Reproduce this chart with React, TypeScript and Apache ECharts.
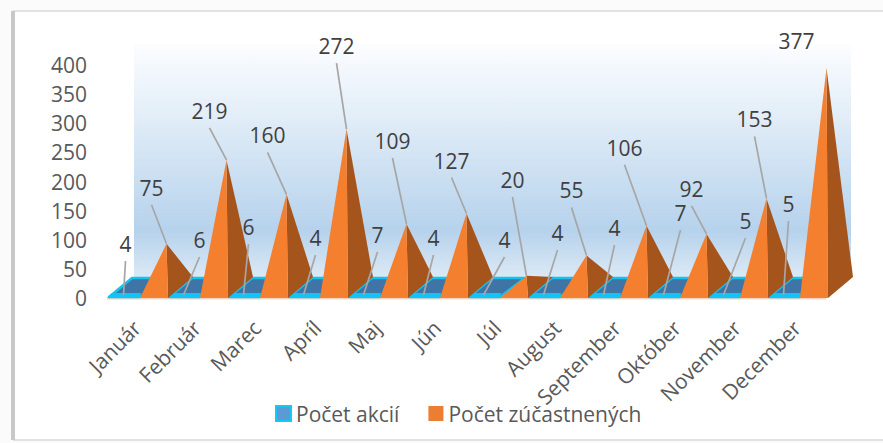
import React, { useEffect, useRef } from "react";
import * as echarts from "echarts";

const months = ["Január", "Február", "Marec", "Apríl", "Maj", "Jún", "Júl", "August", "September", "Október", "November", "December"];
const actions = [4, 6, 6, 4, 7, 4, 4, 4, 4, 7, 5, 5];
const participants = [75, 219, 160, 272, 109, 127, 20, 55, 106, 92, 153, 377];
const yTicks = { min: 0, max: 400, interval: 50 };
// label displacement from the mark's own anchor (layout only)
const actionLabelShift = [[2, -51], [16, -55], [5, -68], [12, -57], [14, -60], [10, -57], [21, -55], [14, -62], [11, -67], [17, -82], [22, -74], [5, -91]];
const participantLabelShift = [[-15, -56], [-17, -49], [-19, -59], [-10, -83], [-14, -83], [-15, -53], [-14, -96], [-15, -65], [-22, -78], [-15, -45], [-12, -79], [-30, -27]];

const BAND = 60, DX = 25, DY = 21, ORANGE_L = 33, ORANGE_W = 28;
const TEXT = "#404040";

function base(api: any, idx: number) {
  const c = api.coord([idx, 0]);
  return { x: c[0] - BAND / 2, y: c[1] };
}
function pyramidApex(api: any, idx: number, value: number) {
  const b = base(api, idx);
  const h = b.y - api.coord([idx, value])[1];
  return [b.x + ORANGE_L + ORANGE_W / 2 + DX / 2, b.y - DY / 2 - h];
}

const renderAction = (_: any, api: any) => {
  const idx = api.value(0);
  const b = base(api, idx);
  const w = ORANGE_L;
  return {
    type: "group",
    children: [
      { type: "polygon", shape: { points: [[b.x + 2, b.y - 1], [b.x + w, b.y - 1], [b.x + w + DX, b.y - DY + 1], [b.x + DX, b.y - DY + 1]] }, style: { fill: "#3f74a6", stroke: "#16c2ee", lineWidth: 2.5, lineJoin: "round" } },
      { type: "polygon", shape: { points: [[b.x, b.y], [b.x + w, b.y], [b.x + w + 1, b.y - 5], [b.x + 5, b.y - 5]] }, style: { fill: "#0fc4f6" } },
    ],
  };
};

const renderParticipant = (_: any, api: any) => {
  const idx = api.value(0);
  const v = api.value(1);
  const b = base(api, idx);
  const l = b.x + ORANGE_L, r = l + ORANGE_W;
  const a = pyramidApex(api, idx, v);
  return {
    type: "group",
    children: [
      { type: "polygon", shape: { points: [[r, b.y], [r + DX, b.y - DY], a] }, style: { fill: "#a5551c" } },
      { type: "polygon", shape: { points: [[l, b.y], [r, b.y], a] }, style: { fill: "#f47f2f" } },
    ],
  };
};

const labelRenderer = (isAction: boolean) => (_: any, api: any) => {
  const idx = api.value(0);
  const v = api.value(1);
  const b = base(api, idx);
  const anchor = isAction ? [b.x + ORANGE_L / 2, b.y - 3] : pyramidApex(api, idx, v);
  const shift = (isAction ? actionLabelShift : participantLabelShift)[idx];
  const tx = anchor[0] + shift[0], ty = anchor[1] + shift[1];
  const showLine = !(!isAction && idx === 11);
  const children: any[] = [];
  if (showLine) {
    children.push({ type: "line", shape: { x1: tx, y1: ty + 17, x2: anchor[0], y2: anchor[1] }, style: { stroke: "#a6a6a6", lineWidth: 1.7 } });
  }
  children.push({ type: "text", style: { x: tx, y: ty, text: String(v), fill: TEXT, font: "21px 'Open Sans'", textAlign: "center", textVerticalAlign: "middle" } });
  return { type: "group", children };
};

export default function App() {
  const ref = useRef<HTMLDivElement>(null);
  useEffect(() => {
    document.body.style.margin = "0";
    const chart = echarts.init(ref.current!, null, { renderer: "svg" });
    chart.setOption({
      animation: false,
      backgroundColor: "#fbfbfb",
      textStyle: { fontFamily: "'Open Sans'" },
      grid: { left: 107, top: 65, width: 720, height: 233, containLabel: false },
      legend: {
        data: [
          { name: "Počet akcií", itemStyle: { color: "#5b9bd5", borderColor: "#16c8f5", borderWidth: 2 } },
          { name: "Počet zúčastnených", itemStyle: { color: "#ed7d31" } },
        ],
        left: 270, top: 398, itemWidth: 15, itemHeight: 15, itemGap: 29,
        icon: "rect",
        textStyle: { fontSize: 21, color: "#595959", fontFamily: "'Open Sans'", padding: [0, 0, 0, 0] },
      },
      xAxis: {
        type: "category", data: months,
        axisLine: { show: false }, axisTick: { show: false }, splitLine: { show: false },
        axisLabel: { rotate: 45, interval: 0, margin: 26, fontSize: 21, color: "#595959", fontFamily: "'Open Sans'" },
      },
      yAxis: {
        type: "value", min: yTicks.min, max: yTicks.max, interval: yTicks.interval,
        axisLine: { show: false }, axisTick: { show: false }, splitLine: { show: false },
        axisLabel: { margin: 20, fontSize: 21, color: "#595959", fontFamily: "'Open Sans'" },
      },
      graphic: [
        { type: "rect", z: -10, shape: { x: 14, y: 11, width: 880, height: 429 }, style: { fill: "#ffffff", stroke: "#e2e2e2", lineWidth: 2 } },
        { type: "rect", z: -9, shape: { x: 11, y: 11, width: 4, height: 429 }, style: { fill: "#c8c8c8" } },
        {
          type: "rect", z: -8, shape: { x: 134, y: 44, width: 717, height: 233 },
          style: { fill: new echarts.graphic.LinearGradient(0, 0, 0, 1, [
            { offset: 0, color: "#fcfdff" }, { offset: 0.3, color: "#e3eef8" }, { offset: 0.8, color: "#b6d2ec" }, { offset: 1, color: "#dbe9f5" },
          ]) },
        },
        { type: "polygon", z: -8, shape: { points: [[107, 298], [826, 298], [851, 277], [134, 277]] }, style: { fill: "#dbe9f5" } },
        { type: "rect", z: -8, shape: { x: 107, y: 298, width: 719, height: 1.5 }, style: { fill: "#f3d6c4" } },
      ],
      series: [
        { type: "custom", name: "Počet akcií", z: 2, renderItem: renderAction, data: actions.map((v, i) => [i, v]), encode: { x: 0, y: 1 }, itemStyle: { color: "#5b9bd5" } },
        { type: "custom", name: "Počet zúčastnených", z: 3, renderItem: renderParticipant, data: participants.map((v, i) => [i, v]), encode: { x: 0, y: 1 }, itemStyle: { color: "#ed7d31" } },
        { type: "custom", name: "labelsA", z: 4, renderItem: labelRenderer(true), data: actions.map((v, i) => [i, v]), encode: { x: 0, y: 1 }, silent: true },
        { type: "custom", name: "labelsB", z: 5, renderItem: labelRenderer(false), data: participants.map((v, i) => [i, v]), encode: { x: 0, y: 1 }, silent: true },
      ],
    });
    return () => chart.dispose();
  }, []);
  return <div ref={ref} style={{ width: 883, height: 443 }} />;
}
